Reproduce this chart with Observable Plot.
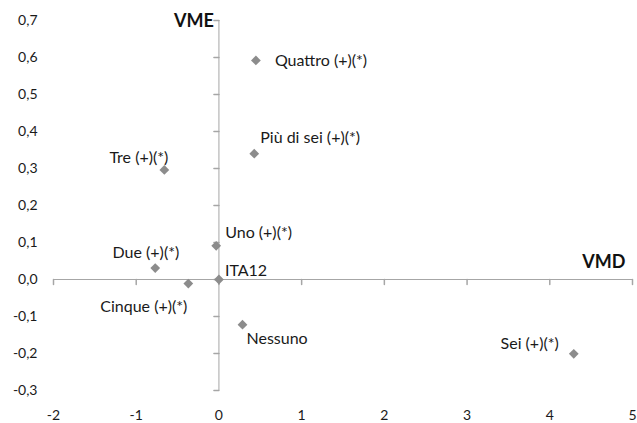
<!DOCTYPE html>
<html>
<head>
<meta charset="utf-8">
<script src="https://cdn.jsdelivr.net/npm/d3@7"></script>
<script src="https://cdn.jsdelivr.net/npm/@observablehq/plot@0.6"></script>
<style>
  html, body { margin: 0; padding: 0; background: #fff; }
  #chart { width: 637px; height: 423px; }
</style>
</head>
<body>
<div id="chart"></div>
<script>
// Data
const labels = ["Nessuno", "Uno (+)(*)", "Due (+)(*)", "Tre (+)(*)", "Quattro (+)(*)", "Cinque (+)(*)", "Sei (+)(*)", "Più di sei (+)(*)", "ITA12"];
const vmd = [0.285, -0.033, -0.77, -0.66, 0.447, -0.37, 4.29, 0.427, 0];
const vme = [-0.122, 0.091, 0.031, 0.296, 0.592, -0.011, -0.201, 0.340, 0];
const xTicks = [-2, -1, 0, 1, 2, 3, 4, 5];
const yTicks = [-0.3, -0.2, -0.1, 0, 0.1, 0.2, 0.3, 0.4, 0.5, 0.6, 0.7];
const xTitle = "VMD";
const yTitle = "VME";

// Label placement (styles)
const labelPlacement = {
  "Nessuno": {anchor: "start", dx: 4, dy: 14},
  "Uno (+)(*)": {anchor: "start", dx: 9, dy: -13},
  "Due (+)(*)": {anchor: "end", dx: 24, dy: -15},
  "Tre (+)(*)": {anchor: "end", dx: 4, dy: -12},
  "Quattro (+)(*)": {anchor: "start", dx: 19, dy: 0},
  "Cinque (+)(*)": {anchor: "end", dx: -1, dy: 23},
  "Sei (+)(*)": {anchor: "end", dx: -15, dy: -10},
  "Più di sei (+)(*)": {anchor: "start", dx: 6, dy: -16},
  "ITA12": {anchor: "start", dx: 6, dy: -9}
};

const points = labels.map((l, i) => ({label: l, x: vmd[i], y: vme[i]}));
const fmt = d => d.toFixed(1).replace(".", ",");
const axisColor = "#a6a6a6";
const font = "Lato, 'Open Sans', sans-serif";

const textMarks = points.map(p => {
  const s = labelPlacement[p.label];
  return Plot.text([p], {x: "x", y: "y", text: "label", textAnchor: s.anchor, dx: s.dx, dy: s.dy, fontSize: 16, fill: "#1a1a1a"});
});

const chart = Plot.plot({
  width: 637,
  height: 423,
  marginLeft: 53,
  marginRight: 5,
  marginTop: 20,
  marginBottom: 33,
  style: {fontFamily: font, background: "#fff"},
  x: {domain: [-2, 5]},
  y: {domain: [-0.3, 0.7]},
  marks: [
    Plot.axisY({anchor: "left", ticks: yTicks, tickSize: 0, tickPadding: 16, tickFormat: fmt, fontSize: 14, fill: "#1a1a1a", label: null}),
    Plot.axisX({anchor: "bottom", ticks: xTicks, tickSize: 0, tickPadding: 20, tickFormat: d => String(d), fontSize: 14, fill: "#1a1a1a", label: null}),
    Plot.ruleX([0], {y1: -0.3, y2: 0.7, stroke: axisColor}),
    Plot.ruleY([0], {x1: -2, x2: 5, stroke: axisColor}),
    Plot.vector(yTicks, {x: 0, y: d => d, length: 5, rotate: -90, anchor: "start", shape: "spike", r: 0, stroke: axisColor, fill: "none"}),
    Plot.vector(xTicks, {x: d => d, y: 0, length: 5, rotate: 180, anchor: "start", shape: "spike", r: 0, stroke: axisColor, fill: "none"}),
    Plot.dot(points, {x: "x", y: "y", symbol: "diamond2", r: 4.4, fill: "#8c8c8c", stroke: "none"}),
    ...textMarks,
    Plot.text([yTitle], {x: 0, y: 0.7, text: d => d, textAnchor: "end", dx: -5, dy: 1, fontSize: 18, fontWeight: "bold", fill: "#111"}),
    Plot.text([xTitle], {x: 5, y: 0, text: d => d, textAnchor: "end", dx: -7, dy: -17, fontSize: 18, fontWeight: "bold", fill: "#111"})
  ]
});
document.getElementById("chart").appendChild(chart);
</script>
</body>
</html>
